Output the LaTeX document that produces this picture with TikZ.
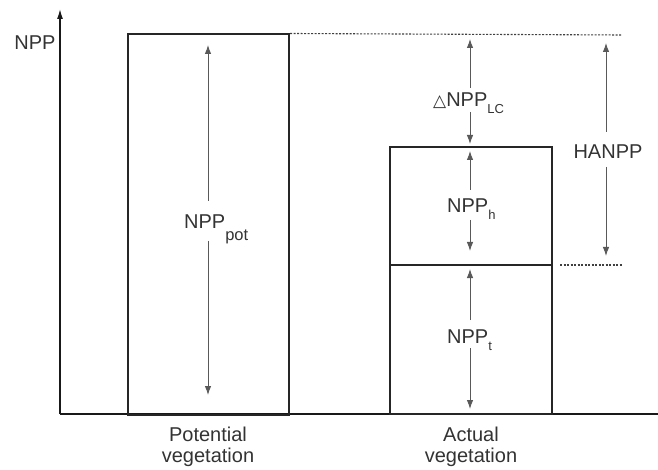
\documentclass[tikz,border=0pt]{standalone}
\usepackage{fontspec}
\setmainfont{Liberation Sans}
\newfontfamily\symfont{DejaVu Sans}
\usetikzlibrary{arrows.meta}
\newcommand{\lsub}[2][-0.5em]{\raisebox{#1}{\fontsize{13}{13}\selectfont #2}}
\tikzset{
  lbl/.style={font=\fontsize{20}{23}\selectfont, text=black!80, inner sep=0pt},
  bar/.style={draw=black!85, line width=2pt},
  axis/.style={draw=black!90, line width=1.3pt},
  dim/.style={draw=black!65, line width=0.9pt, -{Latex[length=9pt,width=6.5pt]}},
  guide/.style={draw=black!75, line width=1.1pt, dash pattern=on 2pt off 1.5pt},
}
\begin{document}
\begin{tikzpicture}[x=1pt,y=-1pt]
\useasboundingbox (0,0) rectangle (658,470);

% axes
\coordinate (O) at (60,414);
\coordinate (Ytop) at (60,9);
\coordinate (Xend) at (658,414);
\draw[axis, -{Latex[length=10pt,width=6pt]}] (O) -- (Ytop);
\draw[axis] (O) -- (Xend);
\node[lbl] (ylab) at (35,43) {NPP};

% potential vegetation bar
\node[bar, minimum width=161pt, minimum height=380pt, inner sep=0pt] (pot) at (208.5,224.5) {};
% actual vegetation bars
\node[bar, minimum width=162pt, minimum height=118pt, inner sep=0pt] (harv) at (471,206) {};
\node[bar, minimum width=162pt, minimum height=149pt, inner sep=0pt] (rem) at (471,339.5) {};

% guide lines
\coordinate (g1e) at (622,35);
\coordinate (g2s) at (560,265);
\coordinate (g2e) at (622,265);
\draw[guide] (pot.north east) -- (g1e);
\draw[guide] (g2s) -- (g2e);

% NPP_pot
\node[lbl, anchor=base west] (potlab) at (184,229) {NPP\lsub[-0.6em]{\fontsize{16.5}{16}\selectfont pot}};
\coordinate (potT) at (208,45);
\coordinate (potA) at (208,201);
\coordinate (potB) at (208,241);
\coordinate (potD) at (208,395);
\draw[dim] (potA) -- (potT);
\draw[dim] (potB) -- (potD);

% Delta NPP_LC
\node[lbl, anchor=base west] (lclab) at (433,107) {{\symfont\fontsize{17}{17}\selectfont △}NPP\lsub[-0.35em]{LC}};
\coordinate (lcT) at (470,39);
\coordinate (lcA) at (470,88);
\coordinate (lcB) at (470,112);
\coordinate (lcD) at (470,144);
\draw[dim] (lcA) -- (lcT);
\draw[dim] (lcB) -- (lcD);

% NPP_h
\node[lbl, anchor=base west] (hlab) at (447,213) {NPP\lsub[-0.35em]{h}};
\coordinate (hT) at (470,151);
\coordinate (hA) at (470,190);
\coordinate (hB) at (470,220);
\coordinate (hD) at (470,251);
\draw[dim] (hA) -- (hT);
\draw[dim] (hB) -- (hD);

% NPP_t
\node[lbl, anchor=base west] (tlab) at (447,343) {NPP\lsub[-0.35em]{t}};
\coordinate (tT) at (470,269);
\coordinate (tA) at (470,320);
\coordinate (tB) at (470,348);
\coordinate (tD) at (470,409);
\draw[dim] (tA) -- (tT);
\draw[dim] (tB) -- (tD);

% HANPP
\node[lbl] (halab) at (608,152) {HANPP};
\coordinate (haT) at (606,43);
\coordinate (haA) at (606,132);
\coordinate (haB) at (606,167);
\coordinate (haD) at (606,256);
\draw[dim] (haA) -- (haT);
\draw[dim] (haB) -- (haD);

% category labels
\node[lbl, align=center, font=\fontsize{20}{20.5}\selectfont] (potcat) at (208,447) {Potential\\vegetation};
\node[lbl, align=center, font=\fontsize{20}{20.5}\selectfont] (actcat) at (471,447) {Actual\\vegetation};
\end{tikzpicture}
\end{document}
